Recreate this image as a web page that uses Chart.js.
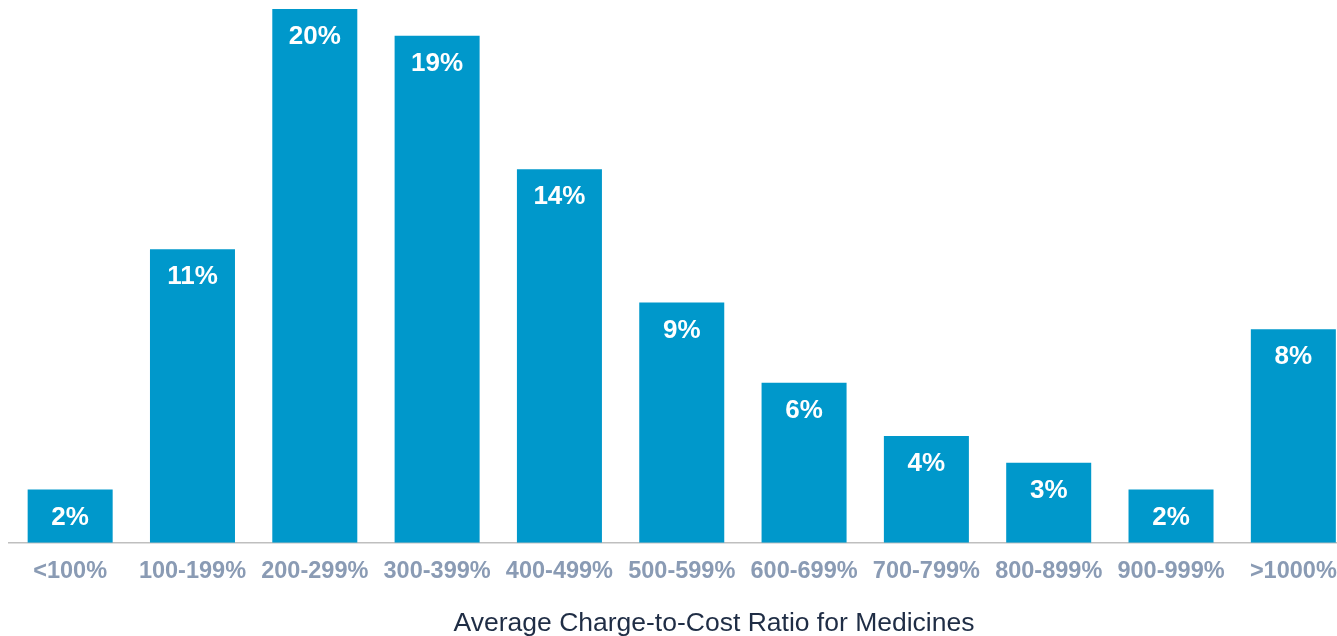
<!DOCTYPE html>
<html>
<head>
<meta charset="utf-8">
<script src="https://cdn.jsdelivr.net/npm/chart.js@4/dist/chart.umd.min.js"></script>
<style>
  html, body { margin: 0; padding: 0; background: #ffffff; overflow: hidden; }
  #wrap { position: relative; width: 1360px; height: 636px; }
</style>
</head>
<body>
<div id="wrap"><canvas id="c"></canvas></div>
<script>
const categories = ['<100%', '100-199%', '200-299%', '300-399%', '400-499%', '500-599%', '600-699%', '700-799%', '800-899%', '900-999%', '>1000%'];
const shares = [2, 11, 20, 19, 14, 9, 6, 4, 3, 2, 8];
const axisTitle = 'Average Charge-to-Cost Ratio for Medicines';

const valueLabels = {
  id: 'valueLabels',
  afterDatasetsDraw(chart) {
    const ctx = chart.ctx;
    const meta = chart.getDatasetMeta(0);
    ctx.save();
    ctx.fillStyle = '#ffffff';
    ctx.font = 'bold 26px "Liberation Sans", Arial, sans-serif';
    ctx.textAlign = 'center';
    ctx.textBaseline = 'middle';
    meta.data.forEach((bar, i) => {
      ctx.fillText(shares[i] + '%', bar.x, bar.y + 28);
    });
    ctx.restore();
  }
};

const bottomTitle = {
  id: 'bottomTitle',
  afterDraw(chart) {
    const ctx = chart.ctx;
    ctx.save();
    ctx.fillStyle = '#1f2d45';
    ctx.font = '26.5px "Liberation Sans", Arial, sans-serif';
    ctx.textAlign = 'center';
    ctx.textBaseline = 'alphabetic';
    ctx.fillText(axisTitle, 714, 631);
    ctx.restore();
  }
};

new Chart(document.getElementById('c'), {
  type: 'bar',
  data: {
    labels: categories,
    datasets: [{
      data: shares,
      backgroundColor: '#0098cb',
      borderWidth: 0,
      barPercentage: 0.695,
      categoryPercentage: 1.0
    }]
  },
  options: {
    responsive: true,
    maintainAspectRatio: false,
    animation: false,
    layout: { padding: { left: 9, right: 5.5, top: 9, bottom: 35 } },
    plugins: { legend: { display: false }, tooltip: { enabled: false } },
    scales: {
      x: {
        grid: { display: false, drawTicks: false },
        border: { display: true, color: '#bfbfbf', width: 1.5 },
        ticks: {
          color: '#8a9bb4',
          font: { family: '"Liberation Sans", Arial, sans-serif', size: 23.5, weight: 'bold' },
          padding: 15,
          maxRotation: 0,
          autoSkip: false
        }
      },
      y: {
        display: false,
        min: 0,
        max: 20
      }
    }
  },
  plugins: [valueLabels, bottomTitle]
});
</script>
</body>
</html>
